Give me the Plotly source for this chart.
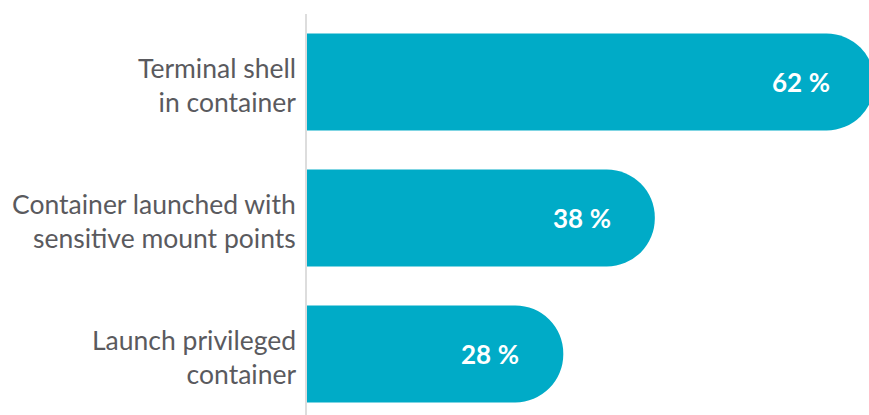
import plotly.graph_objects as go

categories = ["Terminal shell<br>in container",
              "Container launched with<br>sensitive mount points",
              "Launch privileged<br>container"]
values = [62, 38, 28]
value_labels = [f"{v}\u2005%" for v in values]

X_MAX = 61.4  # the longest bar runs slightly past the right edge

BAR_COLOR = "#00ABC7"
TEXT_COLOR = "#5A5A5E"
FONT = "Lato, 'Open Sans', sans-serif"

fig = go.Figure(go.Bar(
    x=values,
    y=categories,
    orientation="h",
    marker=dict(color=BAR_COLOR, cornerradius="50%", line=dict(width=0)),
    hoverinfo="skip",
))

# Value labels sit inside the bar tip; placed in paper units so the
# label of the clipped bar still shows.
for cat, v, lbl in zip(categories, values, value_labels):
    fig.add_annotation(
        x=v / X_MAX, xref="paper", y=cat, yref="y", text=lbl, showarrow=False,
        xanchor="right", yanchor="middle", xshift=-42,
        font=dict(family=FONT, size=26, color="white", weight=700),
    )
    # category label to the left of the axis line
    fig.add_annotation(
        x=0, xref="paper", y=cat, yref="y", text=cat, showarrow=False,
        xanchor="right", yanchor="middle", align="right",
        xshift=-9, yshift=-3,
        font=dict(family=FONT, size=26.5, color=TEXT_COLOR),
    )

fig.update_layout(
    width=869, height=415,
    margin=dict(l=307, r=0, t=14, b=0),
    paper_bgcolor="white", plot_bgcolor="white",
    bargap=0.287,
    showlegend=False,
    xaxis=dict(range=[0, X_MAX], visible=False, fixedrange=True),
    yaxis=dict(
        type="category",
        range=[2.449, -0.5],
        showgrid=False, zeroline=False,
        showline=True, linecolor="#DDDDDD", linewidth=2,
        ticks="", showticklabels=False,
    ),
)

fig.write_html("out.html")
